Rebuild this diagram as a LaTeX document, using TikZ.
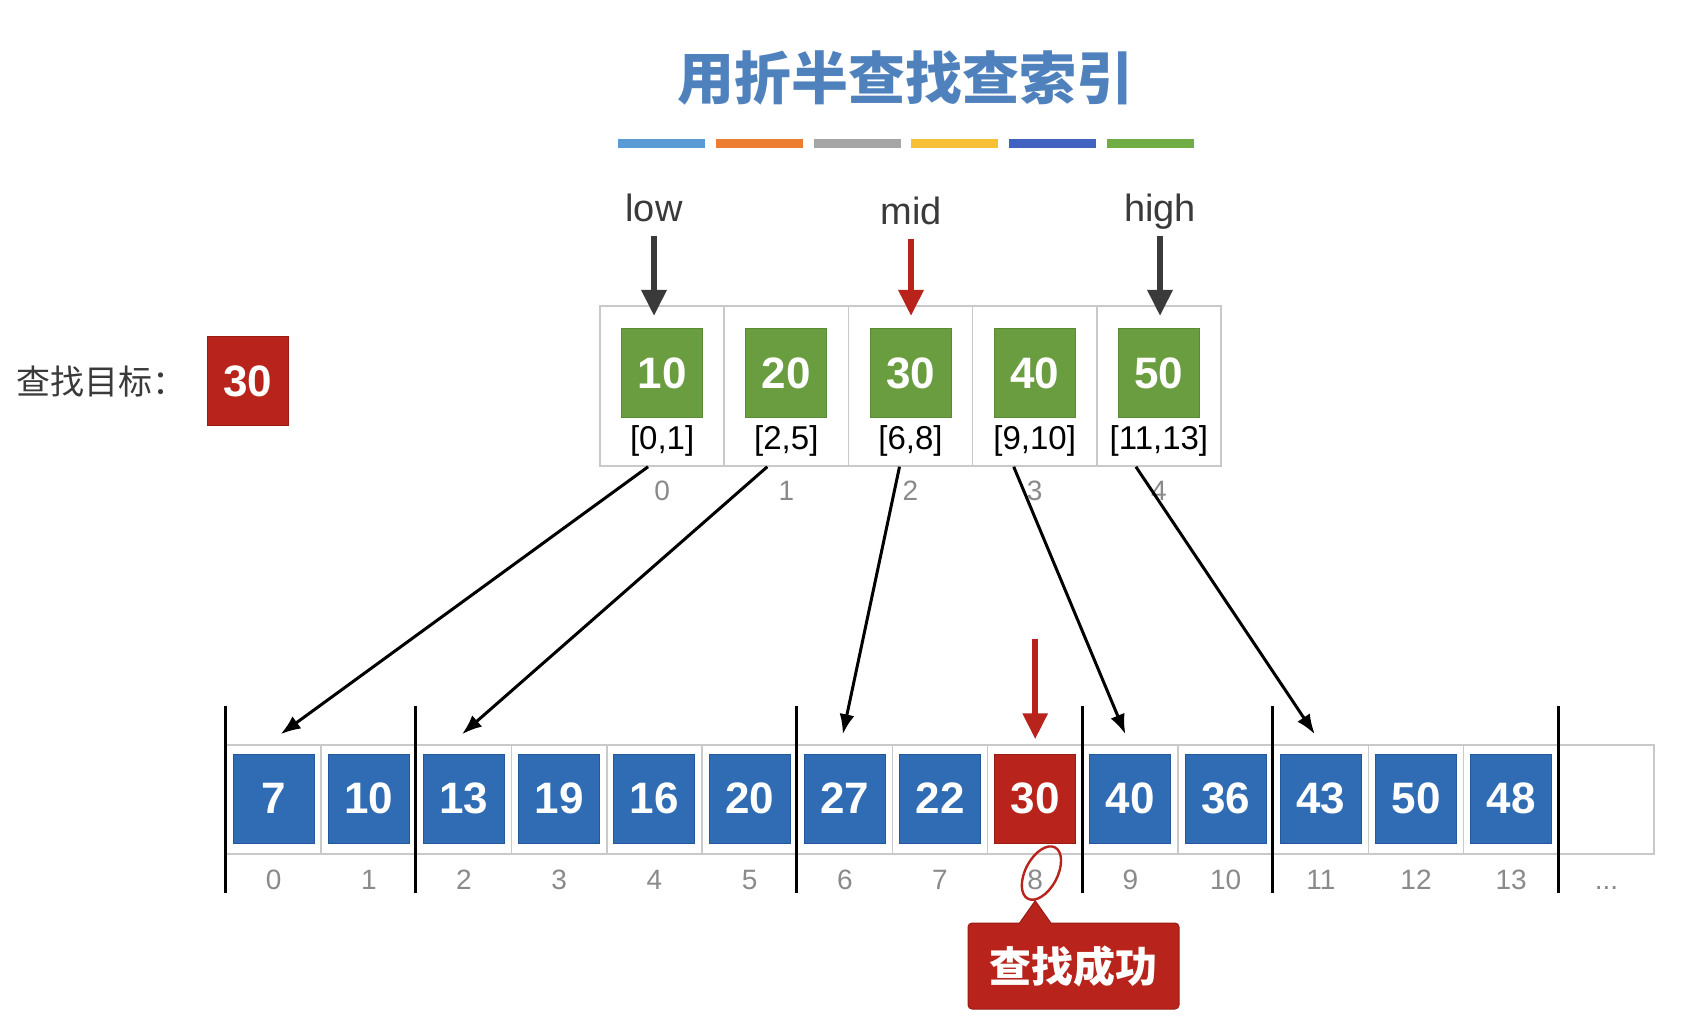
\documentclass[tikz,border=0pt]{standalone}
\usepackage{fontspec}
\setmainfont{Liberation Sans}
\newfontfamily\cjk{Noto Sans CJK SC}
\usetikzlibrary{arrows.meta,positioning,calc}
\definecolor{Ink}{HTML}{3A3A3A}
\definecolor{Grid}{HTML}{C9C9C9}
\definecolor{IdxGray}{HTML}{8A8A8A}
\definecolor{Heading}{HTML}{4F81BD}
\definecolor{Leaf}{HTML}{6A9D3F}
\definecolor{LeafDark}{HTML}{5A8A33}
\definecolor{Sea}{HTML}{2F6CB4}
\definecolor{SeaDark}{HTML}{24589A}
\definecolor{Hit}{HTML}{B8231B}
\definecolor{HitDark}{HTML}{981B14}
\definecolor{BarA}{HTML}{5B9BD5}
\definecolor{BarB}{HTML}{ED7D31}
\definecolor{BarC}{HTML}{A5A5A5}
\definecolor{BarD}{HTML}{F7C037}
\definecolor{BarE}{HTML}{3F63BE}
\definecolor{BarF}{HTML}{70AD47}
\tikzset{
  cell/.style={draw=Grid,fill=white,line width=.75pt},
  topcell/.style={cell,minimum width=62.1pt,minimum height=80pt},
  botcell/.style={cell,minimum width=47.6pt,minimum height=54.5pt},
  key/.style={fill=Leaf,draw=LeafDark,line width=.5pt,minimum width=40.5pt,minimum height=44.5pt,inner sep=0pt,text=white,font=\bfseries\fontsize{22}{22}\selectfont},
  val/.style={key,fill=Sea,draw=SeaDark},
  hit/.style={key,fill=Hit,draw=HitDark},
  rng/.style={font=\fontsize{16.5}{16.5}\selectfont,text=black,inner sep=1pt},
  idx/.style={font=\fontsize{14}{14}\selectfont,text=IdxGray,inner sep=1pt,anchor=base},
  ptrlbl/.style={font=\fontsize{19}{19}\selectfont,text=Ink,anchor=base,inner sep=1pt},
  ptr/.style={-{Triangle[length=13pt,width=12pt]},draw=Ink,line width=3pt},
  redptr/.style={ptr,draw=Hit},
  link/.style={-{Latex[length=10pt,width=7.5pt]},draw=black,line width=1.5pt},
  sep/.style={draw=black,line width=1.5pt},
  bar/.style={line width=4.5pt},
  scrib/.style={draw=Hit,line width=1.2pt},
  badge/.style={fill=Hit,draw=HitDark,line width=.5pt,rounded corners=2pt,minimum width=105.5pt,minimum height=43pt,text=white,font=\cjk\bfseries\fontsize{21}{21}\selectfont}
}
\begin{document}
\begin{tikzpicture}[x=0.5pt,y=-0.5pt]
  \fill[white] (0,0) rectangle (1701,1031);
  \useasboundingbox (0,0) rectangle (1701,1031);

  % title and colour strip
  \node[font=\cjk\bfseries\fontsize{28.5}{28.5}\selectfont,text=Heading] (title) at (905,78) {用折半查找查索引};
  \foreach \c [count=\i from 0] in {BarA,BarB,BarC,BarD,BarE,BarF}
    \draw[bar,draw=\c] (618+97.8*\i,144) -- +(87,0);

  % search key
  \node[font=\cjk\fontsize{17}{17}\selectfont,text=Ink,anchor=west,inner sep=0pt] (goal) at (16,382) {查找目标：};
  \node[hit] (goalv) at (247.5,381.5) {30};

  % index table
  \foreach \v/\rg [count=\i from 0] in {10/{[0,1]},20/{[2,5]},30/{[6,8]},40/{[9,10]},50/{[11,13]}}{
    \node[topcell] (t\i) at (662.1+124.2*\i,386) {};
    \node[key] (g\i) at (662.1+124.2*\i,373) {\v};
    \node[rng] (r\i) at (662.1+124.2*\i,441) {\rg};
    \node[idx] (ti\i) at (662.1+124.2*\i,501) {\i};
  }
  \node[ptrlbl] (low) at (654,222) {low};
  \node[ptrlbl] (mid) at (911,225) {mid};
  \node[ptrlbl] (high) at (1160,222) {high};
  \draw[ptr] ($(low.base)+(0,14)$) -- ($(low.base |- g0.north)+(0,-12)$);
  \draw[redptr] ($(mid.base)+(0,14)$) -- ($(mid.base |- g2.north)+(0,-12)$);
  \draw[ptr] ($(high.base)+(0,14)$) -- ($(high.base |- g4.north)+(0,-12)$);

  % main table
  \foreach \i in {0,...,14}
    \node[botcell] (b\i) at (273.6+95.2*\i,799.5) {};
  \foreach \v/\s [count=\i from 0] in {7/val,10/val,13/val,19/val,16/val,20/val,27/val,22/val,30/hit,40/val,36/val,43/val,50/val,48/val}{
    \node[\s] (v\i) at (273.6+95.2*\i,798.5) {\v};
    \node[idx] (bi\i) at (273.6+95.2*\i,889) {\i};
  }
  \node[idx] (more) at (b14 |- bi0.base) {...};
  \foreach \k in {0,2,6,9,11,14}
    \draw[sep] ($(b\k.north west)+(0,-38)$) -- ($(b\k.south west)+(0,38)$);

  % block links
  \foreach \s/\d/\a/\b in {0/0/-14/7,1/2/-19/-2,2/6/-11/-2,3/9/-21/-5,4/11/-23/-6}
    \draw[link] ($(t\s.south)+(\a,0)$) -- ($(b\d.north)+(\b,-10)$);

  \draw[redptr] ($(b8.north)+(0,-105)$) -- ($(b8.north)+(0,-5)$);
  \draw[scrib,rotate around={-28:($(bi8.base)+(-2,-17)$)}] ($(bi8.base)+(-2,-17)$) ellipse [x radius=16, y radius=29];

  % result badge
  \node[badge] (found) at (1073.5,966) {查找成功};
  \coordinate (tip) at ($(b8.south)+(0,46)$);
  \filldraw[fill=Hit,draw=HitDark,line width=.5pt] ($(tip |- found.north)+(-16,1)$) -- (tip) -- ($(tip |- found.north)+(16,1)$);
  \fill[Hit] ($(tip |- found.north)+(-15,3)$) rectangle ($(tip |- found.north)+(15,-1)$);
\end{tikzpicture}
\end{document}
